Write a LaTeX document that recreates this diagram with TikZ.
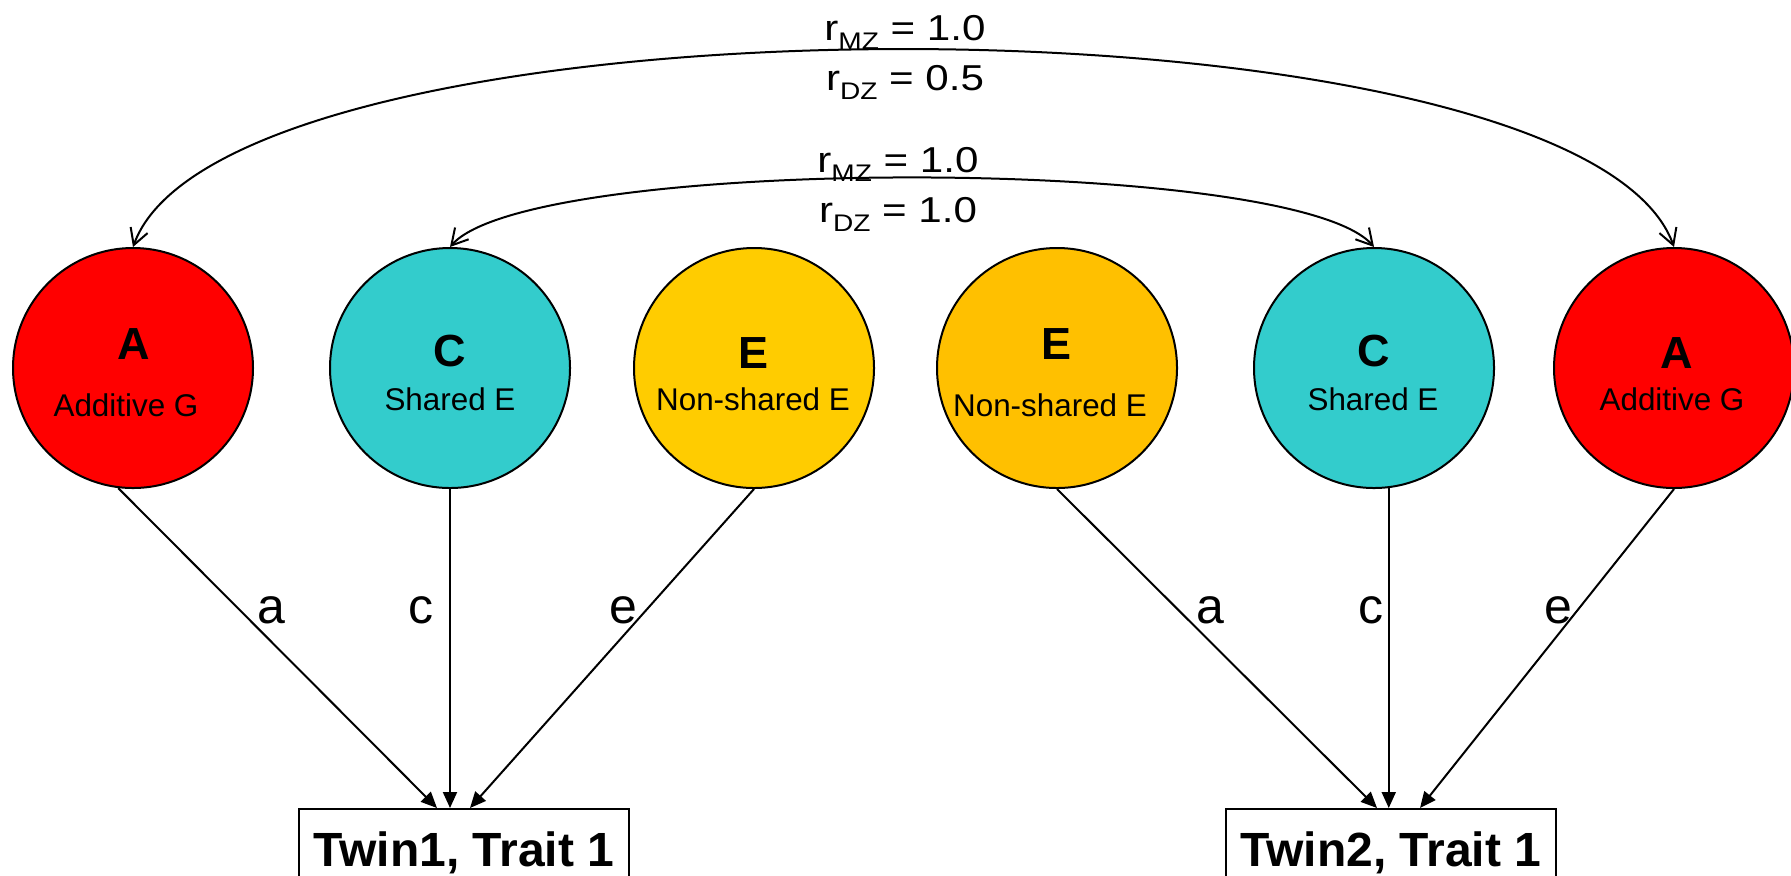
\documentclass[tikz,border=0pt]{standalone}
\usepackage{fontspec}
\setmainfont{Liberation Sans}
\usepackage{graphicx}
\usetikzlibrary{arrows.meta,calc}

\definecolor{addG}{HTML}{FF0000}
\definecolor{sharedE}{HTML}{33CCCC}
\definecolor{uniqE}{HTML}{FFCC00}
\definecolor{uniqEb}{HTML}{FFC000}

% correlation label: r with a lowered subscript, stretched horizontally
\newcommand\rlabel[2]{\scalebox{1.17}[1]{r\raisebox{-4.5pt}{\fontsize{12}{12}\selectfont #1} = #2}}

\begin{document}
\begin{tikzpicture}[x=0.5pt,y=-0.5pt,
  factor/.style={circle, draw=black, line width=1pt, minimum size=120pt, inner sep=0pt},
  letter/.style={font=\fontsize{22.5}{26}\selectfont\bfseries, inner sep=0pt, anchor=base},
  caption/.style={font=\fontsize{15.7}{18}\selectfont, inner sep=0pt, anchor=base},
  coef/.style={font=\fontsize{25}{30}\selectfont, inner sep=0pt, anchor=base},
  rl/.style={font=\fontsize{18}{21}\selectfont, inner sep=0pt, anchor=base},
  obs/.style={draw=black, line width=1pt, minimum width=165pt, inner xsep=0pt, inner ysep=11.5pt,
    text height=17pt, text depth=20pt, font=\fontsize{24}{28}\selectfont\bfseries, anchor=north},
  pathline/.style={line width=1pt, -{Triangle[length=8pt,width=7pt]}},
  corr/.style={line width=1pt, {Straight Barb[length=8pt,width=9pt]}-{Straight Barb[length=8pt,width=9pt]}}
]
\useasboundingbox (0,0) rectangle (1791,875);
\clip (0,0) rectangle (1791,875);

% latent factors
\node[factor, fill=addG]    (A1) at (133,368)  {};
\node[factor, fill=sharedE] (C1) at (450,368)  {};
\node[factor, fill=uniqE]   (E1) at (754,368)  {};
\node[factor, fill=uniqEb]  (E2) at (1057,368) {};
\node[factor, fill=sharedE] (C2) at (1374,368) {};
\node[factor, fill=addG]    (A2) at (1674,368) {};

\node[letter]  (A1t) at (134,359)  {A};
\node[caption] (A1c) at (126,416)  {Additive G};
\node[letter]  (C1t) at (450,366)  {C};
\node[caption] (C1c) at (450,410)  {Shared E};
\node[letter]  (E1t) at (753,368)  {E};
\node[caption] (E1c) at (753,410)  {Non-shared E};
\node[letter]  (E2t) at (1056,359) {E};
\node[caption] (E2c) at (1050,416) {Non-shared E};
\node[letter]  (C2t) at (1374,366) {C};
\node[caption] (C2c) at (1373,410) {Shared E};
\node[letter]  (A2t) at (1677,368) {A};
\node[caption] (A2c) at (1672,410) {Additive G};

% observed phenotypes
\node[obs] (T1) at (464,808)  {Twin1, Trait 1};
\node[obs] (T2) at (1391,808) {Twin2, Trait 1};

% paths
\draw[pathline] (A1.263)   -- ($(T1.north)+(-27,0)$);
\draw[pathline] (C1.south) -- (C1.south |- T1.north);
\draw[pathline] (E1.south) -- ($(T1.north)+(6,0)$);
\draw[pathline] (E2.south) -- ($(T2.north)+(-14,0)$);
\draw[pathline] (C2.277)   -- (C2.277 |- T2.north);
\draw[pathline] (A2.south) -- ($(T2.north)+(29,0)$);

\node[coef] (la1) at (271,623)  {a};
\node[coef] (lc1) at (421,623)  {c};
\node[coef] (le1) at (623,623)  {e};
\node[coef] (la2) at (1210,623) {a};
\node[coef] (lc2) at (1371,623) {c};
\node[coef] (le2) at (1558,623) {e};

% twin correlations
\draw[corr] (A1.north) .. controls +(95,-263) and +(-95,-263) .. (A2.north);
\draw[corr] (C1.north) .. controls +(80,-92) and +(-80,-92) .. (C2.north);

\node[rl] (rA1) at (905,40)  {\rlabel{MZ}{1.0}};
\node[rl] (rA2) at (905,90)  {\rlabel{DZ}{0.5}};
\node[rl] (rC1) at (898,172) {\rlabel{MZ}{1.0}};
\node[rl] (rC2) at (898,222) {\rlabel{DZ}{1.0}};
\end{tikzpicture}
\end{document}
